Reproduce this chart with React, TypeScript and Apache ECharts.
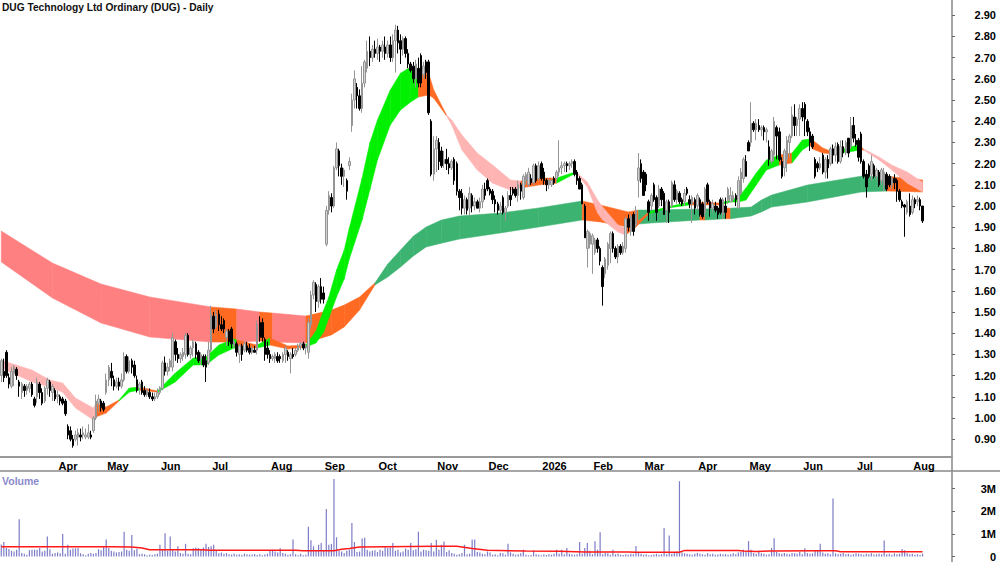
import { useEffect, useRef } from "react";
import * as echarts from "echarts";

// [open, close, low, high]
const candles = [
  // Mar
  [1.2,1.27,1.17,1.28],[1.22,1.19,1.17,1.28],[1.31,1.2,1.19,1.32],[1.19,1.16,1.14,1.21],[1.15,1.22,1.14,1.24],[1.21,1.24,1.15,1.25],[1.23,1.2,1.18,1.24],[1.17,1.15,1.1,1.18],
  [1.12,1.16,1.09,1.17],[1.15,1.13,1.1,1.16],[1.13,1.15,1.11,1.16],[1.14,1.16,1.12,1.17],[1.16,1.11,1.1,1.17],[1.09,1.06,1.05,1.1],[1.1,1.17,1.07,1.19],[1.16,1.12,1.09,1.17],
  [1.12,1.07,1.06,1.14],[1.08,1.14,1.07,1.15],[1.14,1.18,1.11,1.19],[1.17,1.13,1.1,1.18],[1.12,1.15,1.08,1.16],[1.13,1.09,1.08,1.14],
  // Apr
  [1.1,1.11,1.07,1.13],[1.1,1.08,1.06,1.11],[1.09,1.07,1.06,1.1],[1.08,1.02,1.01,1.09],[0.96,0.92,0.9,0.97],[0.94,0.9,0.89,0.96],[0.9,0.87,0.86,0.92],[0.9,0.92,0.89,0.94],
  [0.91,0.93,0.87,0.95],[0.92,0.91,0.89,0.95],[0.92,0.93,0.9,0.96],[0.91,0.92,0.9,0.95],[0.91,0.93,0.9,0.97],[0.92,0.91,0.9,0.94],[0.94,1.0,0.93,1.01],[1.0,1.08,0.99,1.11],
  [1.07,1.09,1.03,1.11],[1.08,1.05,1.03,1.09],[1.07,1.04,1.03,1.08],
  // May
  [1.12,1.18,1.11,1.21],[1.18,1.24,1.15,1.25],[1.22,1.19,1.15,1.26],[1.18,1.15,1.13,1.2],[1.15,1.17,1.14,1.19],[1.17,1.15,1.13,1.19],[1.15,1.18,1.14,1.21],[1.18,1.29,1.17,1.31],
  [1.29,1.22,1.21,1.3],[1.22,1.27,1.21,1.29],[1.27,1.24,1.21,1.28],[1.25,1.2,1.19,1.27],[1.18,1.13,1.12,1.2],[1.14,1.16,1.11,1.17],[1.17,1.12,1.11,1.18],[1.13,1.11,1.1,1.15],
  [1.11,1.13,1.1,1.14],[1.12,1.1,1.09,1.14],[1.1,1.09,1.08,1.12],[1.09,1.1,1.08,1.12],[1.1,1.12,1.09,1.14],
  // Jun
  [1.12,1.14,1.11,1.15],[1.14,1.26,1.13,1.27],[1.26,1.22,1.2,1.29],[1.22,1.24,1.2,1.26],[1.24,1.27,1.22,1.28],[1.24,1.38,1.22,1.4],[1.36,1.3,1.27,1.37],[1.3,1.28,1.26,1.33],
  [1.28,1.3,1.26,1.31],[1.29,1.31,1.27,1.33],[1.3,1.39,1.28,1.4],[1.39,1.3,1.29,1.4],[1.3,1.33,1.28,1.34],[1.33,1.36,1.29,1.37],[1.35,1.3,1.28,1.36],[1.31,1.27,1.26,1.32],
  [1.28,1.3,1.25,1.31],[1.29,1.25,1.24,1.3],[1.27,1.24,1.17,1.3],[1.26,1.32,1.25,1.36],
  // Jul
  [1.32,1.49,1.31,1.53],[1.48,1.42,1.4,1.5],[1.43,1.49,1.42,1.51],[1.49,1.44,1.41,1.51],[1.44,1.42,1.41,1.48],[1.46,1.42,1.4,1.47],[1.38,1.41,1.34,1.42],[1.41,1.36,1.34,1.42],
  [1.42,1.35,1.33,1.43],[1.34,1.36,1.33,1.37],[1.35,1.31,1.29,1.36],[1.3,1.34,1.26,1.35],[1.34,1.3,1.27,1.35],[1.32,1.35,1.31,1.36],[1.34,1.32,1.31,1.36],[1.33,1.31,1.3,1.35],
  [1.31,1.33,1.3,1.34],[1.32,1.31,1.31,1.34],[1.32,1.44,1.3,1.46],[1.45,1.38,1.36,1.48],[1.45,1.38,1.36,1.47],[1.37,1.3,1.27,1.38],[1.33,1.3,1.28,1.36],
  // Aug
  [1.3,1.28,1.26,1.32],[1.28,1.29,1.27,1.3],[1.28,1.3,1.26,1.31],[1.29,1.27,1.26,1.31],[1.29,1.28,1.26,1.3],[1.27,1.3,1.26,1.31],[1.3,1.33,1.26,1.34],[1.31,1.29,1.27,1.32],
  [1.28,1.3,1.21,1.31],[1.3,1.29,1.28,1.33],[1.3,1.32,1.29,1.33],[1.32,1.34,1.31,1.35],[1.34,1.35,1.32,1.36],[1.35,1.33,1.32,1.36],[1.33,1.34,1.3,1.35],[1.31,1.45,1.28,1.47],
  [1.44,1.58,1.42,1.6],[1.58,1.64,1.56,1.65],[1.63,1.55,1.5,1.64],[1.55,1.62,1.52,1.63],[1.62,1.56,1.54,1.66],
  // Sep
  [1.59,1.56,1.54,1.62],[1.82,1.98,1.81,2.0],[1.98,2.05,1.96,2.07],[2.04,2.0,1.97,2.06],[2.0,2.18,1.99,2.19],[2.18,2.27,2.17,2.3],[2.26,2.19,2.14,2.27],[2.18,2.14,2.1,2.2],
  [2.14,2.17,2.09,2.18],[2.12,2.07,2.03,2.13],[2.19,2.21,2.17,2.23],[2.38,2.5,2.35,2.53],[2.5,2.6,2.46,2.64],[2.56,2.52,2.46,2.58],[2.52,2.46,2.45,2.55],[2.46,2.58,2.44,2.66],
  [2.58,2.68,2.56,2.69],[2.65,2.73,2.63,2.78],[2.73,2.7,2.66,2.8],[2.7,2.74,2.68,2.76],[2.74,2.72,2.7,2.78],
  // Oct
  [2.72,2.75,2.69,2.79],[2.75,2.73,2.68,2.76],[2.73,2.76,2.7,2.78],[2.75,2.72,2.69,2.8],[2.72,2.76,2.7,2.78],[2.76,2.7,2.68,2.8],[2.7,2.78,2.68,2.81],[2.78,2.83,2.63,2.855],
  [2.83,2.77,2.72,2.85],[2.78,2.74,2.67,2.81],[2.74,2.79,2.71,2.8],[2.79,2.72,2.7,2.8],[2.72,2.67,2.65,2.74],[2.67,2.64,2.63,2.68],[2.66,2.6,2.58,2.68],[2.6,2.67,2.56,2.69],
  [2.65,2.58,2.56,2.7],[2.71,2.58,2.56,2.72],[2.62,2.66,2.6,2.68],[2.68,2.63,2.6,2.69],[2.68,2.44,2.43,2.69],[2.4,2.15,2.14,2.41],[2.15,2.27,2.12,2.33],
  // Nov
  [2.27,2.31,2.16,2.33],[2.3,2.21,2.17,2.32],[2.26,2.19,2.18,2.28],[2.2,2.22,2.18,2.26],[2.22,2.2,2.17,2.27],[2.2,2.18,2.15,2.23],[2.18,2.21,2.17,2.22],[2.22,2.12,2.1,2.23],
  [2.2,2.07,2.05,2.21],[2.07,2.04,1.98,2.08],[2.06,1.99,1.96,2.08],[1.99,2.03,1.96,2.05],[2.03,1.98,1.96,2.04],[1.99,2.06,1.95,2.09],[2.05,2.0,1.97,2.06],[2.0,2.02,1.98,2.04],
  [2.02,1.99,1.99,2.03],[1.99,2.02,1.97,2.04],[2.02,2.08,1.99,2.1],[2.08,2.05,2.03,2.11],
  // Dec
  [2.12,2.08,2.07,2.13],[2.08,2.06,2.05,2.09],[2.07,2.03,2.01,2.08],[2.03,2.01,1.97,2.05],[2.01,1.98,1.96,2.02],[1.98,2.0,1.96,2.02],[2.04,1.97,1.96,2.05],[1.97,1.99,1.93,2.0],
  [2.0,2.05,1.99,2.07],[2.05,2.03,2.0,2.09],[2.08,2.06,2.05,2.09],[2.08,2.05,2.04,2.09],[2.05,2.1,2.02,2.12],[2.1,2.07,2.03,2.11],[2.04,2.14,2.03,2.15],[2.12,2.15,2.1,2.16],
  [2.1,2.16,2.09,2.18],[2.13,2.11,2.1,2.15],[2.11,2.19,2.1,2.2],[2.19,2.12,2.11,2.2],[2.13,2.19,2.12,2.21],
  // Jan 2026
  [2.2,2.13,2.12,2.21],[2.16,2.12,2.1,2.18],[2.12,2.1,2.07,2.13],[2.1,2.12,2.08,2.13],[2.1,2.12,2.09,2.13],[2.13,2.11,2.1,2.14],[2.13,2.16,2.11,2.17],[2.16,2.18,2.14,2.31],
  [2.18,2.19,2.15,2.21],[2.19,2.2,2.16,2.21],[2.2,2.19,2.16,2.21],[2.19,2.2,2.17,2.21],[2.2,2.21,2.18,2.22],[2.21,2.15,2.14,2.22],[2.16,2.12,2.1,2.17],[2.13,2.08,2.08,2.14],
  [2.1,2.01,2.01,2.11],[2.0,1.85,1.85,2.01],[1.8,1.88,1.71,1.89],[1.82,1.87,1.8,1.88],
  // Feb
  [1.82,1.86,1.68,1.87],[1.78,1.84,1.77,1.85],[1.84,1.8,1.78,1.85],[1.8,1.74,1.72,1.81],[1.71,1.62,1.53,1.72],[1.68,1.75,1.66,1.76],[1.72,1.82,1.7,1.83],[1.8,1.87,1.73,1.88],
  [1.87,1.8,1.78,1.88],[1.8,1.76,1.75,1.81],[1.76,1.81,1.73,1.82],[1.81,1.78,1.77,1.82],[1.78,1.81,1.77,1.83],[1.8,1.94,1.78,1.95],[1.94,1.9,1.88,1.96],[1.88,1.95,1.86,1.96],
  [1.96,1.88,1.86,1.97],[1.91,1.98,1.9,2.0],[2.12,2.18,2.04,2.25],[2.2,2.13,2.11,2.22],
  // Mar
  [2.16,2.05,2.05,2.17],[2.15,2.1,2.07,2.16],[2.02,1.97,1.93,2.03],[2.0,2.05,1.98,2.06],[2.1,2.03,2.02,2.11],[2.04,1.97,1.93,2.05],[2.0,2.08,1.99,2.1],[2.08,2.03,2.0,2.09],
  [2.06,1.96,1.96,2.07],[1.98,2.02,1.92,2.03],[2.02,1.97,1.92,2.03],[2.0,2.11,1.99,2.12],[2.1,2.03,2.02,2.12],[2.03,2.07,2.01,2.08],[2.06,2.02,2.01,2.07],[2.03,2.01,2.0,2.04],
  [2.02,2.06,2.0,2.08],[2.08,2.06,2.05,2.09],[2.03,2.01,1.99,2.05],[2.01,2.04,1.92,2.05],[2.03,1.99,1.96,2.04],
  // Apr
  [2.0,2.05,1.98,2.06],[2.03,1.96,1.95,2.04],[2.01,1.95,1.94,2.02],[1.97,2.08,1.95,2.09],[2.1,2.02,2.01,2.11],[2.02,1.99,1.95,2.03],[1.99,2.01,1.97,2.03],[2.0,1.98,1.97,2.02],
  [1.99,1.96,1.94,2.0],[2.03,1.97,1.96,2.04],[1.96,2.03,1.94,2.04],[2.0,1.97,1.94,2.04],[2.03,2.08,2.01,2.09],[2.02,2.05,2.02,2.09],[2.03,2.05,2.02,2.07],[2.05,2.03,2.0,2.06],
  [1.99,2.12,1.99,2.14],[2.06,2.16,2.05,2.18],[2.13,2.22,2.11,2.23],[2.21,2.14,2.14,2.24],
  // May
  [2.3,2.26,2.26,2.31],[2.3,2.39,2.28,2.49],[2.39,2.36,2.35,2.4],[2.36,2.39,2.31,2.41],[2.38,2.36,2.35,2.41],[2.36,2.37,2.33,2.38],[2.37,2.35,2.31,2.38],[2.35,2.36,2.3,2.37],
  [2.28,2.22,2.19,2.31],[2.21,2.26,2.2,2.27],[2.24,2.4,2.21,2.42],[2.37,2.33,2.22,2.38],[2.35,2.22,2.21,2.37],[2.21,2.14,2.13,2.23],[2.18,2.26,2.14,2.27],[2.22,2.31,2.16,2.33],
  [2.3,2.33,2.23,2.34],[2.33,2.43,2.32,2.47],[2.42,2.38,2.33,2.48],[2.38,2.41,2.33,2.42],[2.41,2.46,2.33,2.48],
  // Jun
  [2.46,2.42,2.4,2.49],[2.48,2.41,2.33,2.49],[2.4,2.35,2.33,2.41],[2.35,2.3,2.26,2.37],[2.33,2.28,2.27,2.34],[2.22,2.14,2.13,2.23],[2.2,2.18,2.16,2.21],[2.18,2.2,2.17,2.23],
  [2.24,2.16,2.15,2.25],[2.16,2.22,2.13,2.23],[2.22,2.18,2.13,2.24],[2.2,2.27,2.19,2.28],[2.27,2.24,2.2,2.29],[2.24,2.28,2.21,2.3],[2.29,2.21,2.2,2.3],[2.21,2.28,2.2,2.31],
  [2.28,2.25,2.23,2.31],[2.25,2.3,2.24,2.31],[2.32,2.25,2.23,2.32],[2.28,2.38,2.27,2.42],[2.38,2.32,2.3,2.42],
  // Jul
  [2.31,2.29,2.28,2.34],[2.31,2.23,2.21,2.32],[2.34,2.21,2.2,2.35],[2.21,2.14,2.13,2.22],[2.15,2.09,2.04,2.17],[2.19,2.14,2.13,2.2],[2.15,2.21,2.12,2.24],[2.19,2.14,2.13,2.2],
  [2.14,2.17,2.12,2.18],[2.16,2.1,2.09,2.17],[2.12,2.17,2.1,2.18],[2.1,2.16,2.07,2.18],[2.15,2.08,2.07,2.16],[2.14,2.1,2.09,2.15],[2.1,2.13,2.08,2.14],[2.13,2.11,2.08,2.15],
  [2.12,2.07,2.02,2.13],[2.07,2.03,2.02,2.08],[2.02,2.0,1.99,2.03],[2.005,1.995,1.855,2.01],[1.97,2.02,1.96,2.03],[2.0,1.96,1.95,2.06],
  // Aug
  [1.97,2.03,1.96,2.05],[2.03,2.01,1.99,2.04],[2.02,2.03,2.0,2.05],[2.03,2.0,1.98,2.04],[2.0,1.93,1.92,2.0],
];

// millions of shares per bar, one row per month
const volumes = [
  .53,.64,.38,.33,.25,.22,.3,1.65,.15,.12,.08,.28,.3,.3,.3,.38,.22,.26,.88,.32,.12,.16,
  .18,.14,1.0,.12,.52,.3,.35,.36,.38,.14,.1,.05,.12,.15,.12,.16,.32,.28,.42,
  .75,.38,.25,.22,.18,.2,.22,1.1,.3,.25,.95,.28,.34,.1,.12,.1,.05,.08,.07,.1,.12,
  .52,.3,1.03,.25,.88,.3,.22,.45,.15,.12,.56,.12,.1,.36,.4,.38,.3,.4,.56,.42,
  .45,.52,.25,.14,.18,.12,.15,.1,.09,.12,.08,.1,.07,.12,.1,.08,.09,.11,.07,.1,.06,.09,.12,
  .25,.3,.22,.18,.36,.15,.12,.08,.1,.75,.1,.06,.12,.05,.08,1.32,.72,.45,.25,.52,.6,
  .28,2.1,.52,.56,3.43,.85,.25,.22,.15,.25,.3,1.48,.64,.2,.22,.8,.83,.3,.22,.25,.28,
  .2,.3,.25,.46,.38,.4,.6,.25,.3,.18,.22,.35,.3,.6,.28,.32,1.1,.22,.3,.28,.25,.6,.22,
  .74,.3,.52,.66,.2,.28,.16,.12,.08,.1,.15,.52,.1,.12,.75,.75,.2,.18,.12,.1,
  .22,.18,.08,.1,.05,.16,.14,.08,.56,.18,.12,.08,.1,.14,.3,.08,.05,.07,.27,.1,.08,
  .06,.09,.07,.1,.08,.12,.3,.12,.3,.1,.38,.12,.1,.08,.1,.64,.12,.38,.6,.25,
  .1,.68,.3,1.07,.1,.15,.14,.08,.3,.1,.12,.08,.07,.1,.08,.12,.1,.46,.15,.12,
  .08,.1,.06,.07,.09,.12,.08,.1,1.26,.1,.93,.12,.2,.22,3.33,.18,.14,.12,.1,.08,.12,
  .16,.12,.1,.08,.14,.1,.12,.08,.09,.12,.1,.11,.08,.1,.14,.1,.18,.2,.3,.22,
  .68,.3,.15,.12,.26,.14,.12,.08,.1,.38,.81,.2,.14,.12,.15,.12,.1,.16,.14,.12,.2,
  .1,.36,.15,.12,.14,.28,.26,.56,.18,.12,.14,.1,2.57,.14,.1,.12,.16,.1,.12,.08,.1,
  .14,.12,.1,.08,.12,.1,.14,.09,.1,.12,.1,.71,.1,.12,.08,.14,.1,.12,.33,.28,.14,.1,
  .12,.08,.1,.07,.12,
];

// average volume line: bar index and value in millions
const volumeAverageBars = [0,43,51,55,58,78,82,115,118,130,133,136,140,170,178,184,190,205,218,228,245,248,265,267,288,290,295,300,320,326,328,360];
const volumeAverage = [.43,.43,.42,.38,.3,.3,.28,.28,.25,.25,.32,.35,.42,.45,.45,.35,.28,.24,.23,.2,.2,.19,.19,.27,.27,.24,.22,.24,.25,.25,.21,.21];

// slow ribbon, colour of each knot applies up to the next knot
const longBars = [0,20,39,58,82,92,101,106,119,129,134,140,146,151,156,161,166,172,179,195,210,227,234,245,249,254,273,275,283,285,293,297,301,315,336,346,360];
const longUpper = [1.882,1.731,1.632,1.571,1.524,1.514,1.5,1.495,1.481,1.509,1.533,1.571,1.637,1.726,1.792,1.858,1.901,1.934,1.953,1.967,1.991,2.024,2.005,1.972,1.981,1.981,1.986,1.986,1.99,1.99,1.995,2.028,2.052,2.099,2.141,2.141,2.123];
const longLower = [1.736,1.566,1.448,1.382,1.358,1.358,1.363,1.358,1.354,1.392,1.429,1.509,1.627,1.665,1.712,1.764,1.807,1.825,1.844,1.873,1.901,1.934,1.925,1.901,1.915,1.92,1.934,1.934,1.94,1.94,1.953,1.972,1.995,2.019,2.066,2.071,2.066];
const longStates = ["bear","bear","bear","bear","mixed","bear","mixed","bear","mixed","mixed","mixed","mixed","bull","bull","bull","bull","bull","bull","bull","bull","bull","mixed","mixed","mixed","bull","bull","mixed","bull","mixed","bull","bull","bull","bull","bull","bull","mixed","mixed"];

// fast ribbon
const shortBars = [0,12,19,24,29,36,37,41,46,50,54,61,68,75,80,85,91,92,100,105,112,119,123,126,128,131,134,136,141,144,147,152,156,160,163,167,169,174,176,180,186,192,199,203,210,217,223,225,229,233,235,241,244,248,253,260,269,281,285,288,291,295,299,304,309,313,316,317,321,325,328,333,335,337,343,348,354,360];
const shortUpper = [1.273,1.226,1.179,1.165,1.094,1.047,1.071,1.052,1.085,1.141,1.146,1.127,1.212,1.283,1.288,1.344,1.373,1.368,1.344,1.377,1.34,1.344,1.41,1.509,1.571,1.698,1.792,1.896,2.132,2.297,2.406,2.547,2.627,2.656,2.641,2.627,2.547,2.429,2.406,2.335,2.25,2.193,2.123,2.118,2.132,2.132,2.156,2.156,2.113,2.028,1.995,1.91,1.896,1.92,1.972,1.995,2.019,2.014,2.028,2.042,2.085,2.156,2.217,2.241,2.25,2.311,2.316,2.311,2.274,2.255,2.264,2.283,2.288,2.269,2.231,2.193,2.16,2.113];
const shortLower = [1.236,1.17,1.146,1.122,1.047,0.99,1.005,1.023,1.08,1.122,1.132,1.122,1.17,1.25,1.25,1.297,1.33,1.33,1.33,1.344,1.325,1.335,1.354,1.406,1.472,1.571,1.656,1.75,1.934,2.075,2.217,2.382,2.453,2.491,2.514,2.524,2.509,2.425,2.382,2.264,2.17,2.108,2.075,2.085,2.099,2.108,2.146,2.151,2.09,1.967,1.934,1.877,1.863,1.901,1.962,1.99,2.005,2.005,2.019,2.019,2.028,2.099,2.17,2.193,2.203,2.264,2.288,2.269,2.25,2.245,2.25,2.259,2.264,2.264,2.217,2.17,2.108,2.066];
const shortStates = ["bear","bear","bear","bear","bear","bear","mixed","mixed","bull","bull","mixed","bull","bull","bull","bull","bull","bull","mixed","bull","mixed","mixed","bull","bull","bull","bull","bull","bull","bull","bull","bull","bull","bull","bull","bull","mixed","mixed","mixed","bear","bear","bear","bear","bear","bear","mixed","mixed","bull","bull","bear","bear","bear","bear","bear","mixed","mixed","bull","bull","mixed","bull","bull","bull","bull","bull","bull","mixed","bull","bull","mixed","mixed","mixed","bull","bull","bull","mixed","bear","bear","bear","bear","bear"];

const longColors: Record<string, string> = { bear: "#ff8080", mixed: "#ff6a22", bull: "#3cb371" };
const shortColors: Record<string, string> = { bear: "#ffb4b4", mixed: "#ff6a22", bull: "#00f000" };

const monthBars = [22,41,62,82,105,126,147,170,190,211,231,251,272,292,313,334,356];
const monthNames = ["Apr","May","Jun","Jul","Aug","Sep","Oct","Nov","Dec","2026","Feb","Mar","Apr","May","Jun","Jul","Aug"];

const priceTicks = [0.9,1.0,1.1,1.2,1.3,1.4,1.5,1.6,1.7,1.8,1.9,2.0,2.1,2.2,2.3,2.4,2.5,2.6,2.7,2.8,2.9];
const volumeTicks = [0,1,2,3];

const title = "DUG Technology Ltd Ordinary (DUG) - Daily";
const FONT = "'Liberation Sans', Arial, sans-serif";
// the axis runs on past the last bar, empty slots keep the bar pitch
const AXIS_SLOTS = 372;

function ribbonSeries(
  bars: number[],
  upper: number[],
  lower: number[],
  states: string[],
  colors: Record<string, string>,
  z: number,
): echarts.SeriesOption {
  return {
    type: "custom",
    xAxisIndex: 0,
    yAxisIndex: 0,
    z,
    silent: true,
    clip: true,
    data: bars.slice(0, -1).map((b, k) => [b, upper[k]]),
    // eslint-disable-next-line @typescript-eslint/no-explicit-any
    renderItem: (params: any, api: any) => {
      const k = params.dataIndex;
      const color = colors[states[k]];
      return {
        type: "polygon",
        shape: {
          points: [
            api.coord([bars[k], upper[k]]),
            api.coord([bars[k + 1], upper[k + 1]]),
            api.coord([bars[k + 1], lower[k + 1]]),
            api.coord([bars[k], lower[k]]),
          ],
        },
        style: { fill: color, stroke: color, lineWidth: 0.5 },
      };
    },
  } as echarts.SeriesOption;
}

export default function App() {
  const containerRef = useRef<HTMLDivElement | null>(null);

  useEffect(() => {
    if (!containerRef.current) return;

    const chart = echarts.init(containerRef.current, undefined, { renderer: "svg" });
    const categories = Array.from({ length: AXIS_SLOTS }, (_, i) => String(i));

    const option: echarts.EChartsOption = {
      animation: false,
      backgroundColor: "#ffffff",
      textStyle: { fontFamily: FONT },
      title: [
        {
          text: title,
          left: 2,
          top: 2,
          padding: 0,
          textStyle: { fontFamily: FONT, fontSize: 10.2, fontWeight: "bold", color: "#111" },
        },
        {
          text: "Volume",
          left: 2,
          top: 475,
          padding: 0,
          textStyle: { fontFamily: FONT, fontSize: 10.5, fontWeight: "bold", color: "#8a8acc" },
        },
      ],
      grid: [
        { left: 0, top: 0, width: 952, height: 457 },
        { left: 0, top: 472, width: 952, height: 86 },
      ],
      xAxis: [
        {
          type: "category",
          gridIndex: 0,
          data: categories,
          axisLine: { lineStyle: { color: "#999", width: 2 } },
          axisTick: {
            alignWithLabel: true,
            length: 3,
            lineStyle: { color: "#666" },
            interval: (i: number) => monthBars.includes(i),
          },
          axisLabel: {
            color: "#000",
            fontSize: 11,
            fontWeight: "bold",
            fontFamily: FONT,
            align: "left",
            margin: 3,
            padding: [0, 0, 0, 1],
            interval: (i: number) => monthBars.includes(i),
            formatter: (v: string) => monthNames[monthBars.indexOf(Number(v))] ?? "",
          },
          splitLine: { show: false },
        },
        {
          type: "category",
          gridIndex: 1,
          data: categories,
          axisLine: { show: false },
          axisTick: { show: false },
          axisLabel: { show: false },
          splitLine: { show: false },
        },
      ],
      yAxis: [
        {
          type: "value",
          gridIndex: 0,
          position: "right",
          min: 0.816,
          max: 2.972,
          axisLine: { show: false },
          axisTick: { show: true, length: 3, lineStyle: { color: "#666" }, customValues: priceTicks },
          axisLabel: {
            color: "#000",
            fontSize: 11,
            fontWeight: "bold",
            fontFamily: FONT,
            align: "right",
            margin: 44,
            customValues: priceTicks,
            formatter: (v: number) => v.toFixed(2),
          },
          splitLine: { show: false },
        },
        {
          type: "value",
          gridIndex: 1,
          position: "right",
          min: 0,
          max: 3.74,
          axisLine: { show: false },
          axisTick: { show: true, length: 3, lineStyle: { color: "#666" }, customValues: volumeTicks },
          axisLabel: {
            color: "#000",
            fontSize: 11,
            fontWeight: "bold",
            fontFamily: FONT,
            align: "right",
            margin: 44,
            customValues: volumeTicks,
            formatter: (v: number) => (v === 0 ? "0" : `${v}M`),
          },
          splitLine: { show: false },
        },
      ],
      graphic: [
        { type: "line", shape: { x1: 952, y1: 0, x2: 952, y2: 562 }, style: { stroke: "#888", lineWidth: 1.5 } },
        { type: "line", shape: { x1: 0, y1: 471, x2: 1000, y2: 471 }, style: { stroke: "#888", lineWidth: 1.5 } },
      ],
      series: [
        ribbonSeries(longBars, longUpper, longLower, longStates, longColors, 1),
        ribbonSeries(shortBars, shortUpper, shortLower, shortStates, shortColors, 2),
        {
          type: "candlestick",
          xAxisIndex: 0,
          yAxisIndex: 0,
          z: 3,
          silent: true,
          barWidth: 2,
          data: candles,
          itemStyle: {
            color: "#d0d0d0",
            color0: "#000000",
            borderColor: "#959595",
            borderColor0: "#000000",
            borderWidth: 1,
          },
        },
        {
          type: "bar",
          xAxisIndex: 1,
          yAxisIndex: 1,
          barWidth: 1.2,
          silent: true,
          data: volumes,
          itemStyle: { color: "#7c7cc8" },
        },
        {
          type: "line",
          xAxisIndex: 1,
          yAxisIndex: 1,
          silent: true,
          showSymbol: false,
          data: volumeAverageBars.map((b, k) => [b, volumeAverage[k]]),
          lineStyle: { color: "#ff1a1a", width: 1.5 },
          z: 4,
        },
      ],
    };

    chart.setOption(option);

    return () => {
      chart.dispose();
    };
  }, []);

  return (
    <div
      ref={containerRef}
      style={{ position: "fixed", left: 0, top: 0, width: 1000, height: 562 }}
    />
  );
}
